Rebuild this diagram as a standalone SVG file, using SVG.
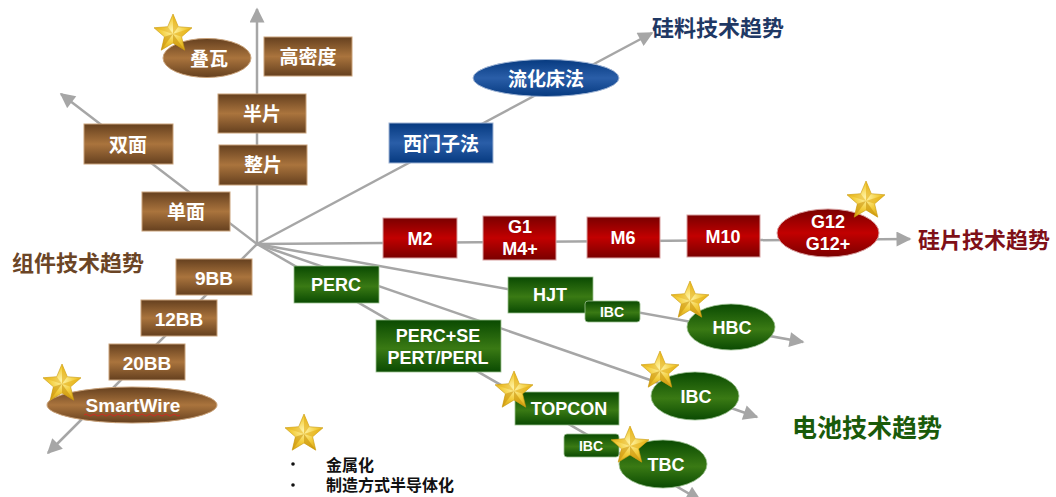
<svg xmlns="http://www.w3.org/2000/svg" width="1056" height="497" viewBox="0 0 1056 497">
<defs>
<style>
.ln{stroke:#a6a6a6;stroke-width:2.5;fill:none;marker-end:url(#ah)}
.t{font-family:"Liberation Sans","Noto Sans CJK SC",Arial,sans-serif;font-weight:bold;fill:#ffffff;text-anchor:middle;dominant-baseline:central}
.br{fill:url(#gBrown);stroke:#c9a27a;stroke-width:1}
.rd{fill:url(#gRed);stroke:#d8a0a0;stroke-width:1}
.gr{fill:url(#gGreen);stroke:#9cc090;stroke-width:0.8}
.bl{fill:url(#gBlue);stroke:#9fb4d4;stroke-width:1}
.title{font-family:"Liberation Sans","Noto Sans CJK SC",sans-serif;font-weight:bold;font-size:22px}
.leg{font-family:"Liberation Sans","Noto Sans CJK SC",sans-serif;font-weight:bold;font-size:16px;fill:#111}
</style>
<linearGradient id="gBrown" x1="0" y1="0" x2="0" y2="1">
<stop offset="0" stop-color="#65401f"/><stop offset="0.5" stop-color="#aa743d"/><stop offset="1" stop-color="#65401f"/>
</linearGradient>
<linearGradient id="gRed" x1="0" y1="0" x2="0" y2="1">
<stop offset="0" stop-color="#7a0000"/><stop offset="0.5" stop-color="#c20000"/><stop offset="1" stop-color="#7a0000"/>
</linearGradient>
<linearGradient id="gGreen" x1="0" y1="0" x2="0" y2="1">
<stop offset="0" stop-color="#0a4a02"/><stop offset="0.55" stop-color="#3a7a14"/><stop offset="1" stop-color="#0a4a02"/>
</linearGradient>
<linearGradient id="gBlue" x1="0" y1="0" x2="0" y2="1">
<stop offset="0" stop-color="#063a80"/><stop offset="0.5" stop-color="#2a5ea8"/><stop offset="1" stop-color="#063a80"/>
</linearGradient>
<radialGradient id="gStar" cx="0.5" cy="0.45" r="0.6">
<stop offset="0" stop-color="#fff4a8"/><stop offset="0.55" stop-color="#f3cd3c"/><stop offset="1" stop-color="#d9a514"/>
</radialGradient>
<marker id="ah" viewBox="0 0 10 10" refX="9" refY="5" markerWidth="17" markerHeight="15" markerUnits="userSpaceOnUse" orient="auto">
<path d="M0,0 L10,5 L0,10 z" fill="#a6a6a6"/>
</marker>
<g id="star">
<polygon points="0,-20 5.3,-7.3 19,-6.2 8.6,2.8 11.8,16.2 0,9 -11.8,16.2 -8.6,2.8 -19,-6.2 -5.3,-7.3" fill="url(#gStar)" stroke="#c89a10" stroke-width="0.6"/>
<polygon points="0,0 0,-20 5.3,-7.3" fill="#e2ae18" opacity="0.6"/>
<polygon points="0,0 19,-6.2 8.6,2.8" fill="#e2ae18" opacity="0.6"/>
<polygon points="0,0 11.8,16.2 0,9" fill="#c8920c" opacity="0.6"/>
<polygon points="0,0 -11.8,16.2 -8.6,2.8" fill="#c8920c" opacity="0.55"/>
<polygon points="0,0 -19,-6.2 -5.3,-7.3" fill="#e2ae18" opacity="0.45"/>
</g>
</defs>

<rect x="0" y="0" width="1056" height="497" fill="#ffffff"/>

<g id="connectors">
<line class="ln" x1="257" y1="244" x2="257" y2="9"/>
<line class="ln" x1="257" y1="244" x2="61" y2="94"/>
<line class="ln" x1="257" y1="244" x2="48" y2="453"/>
<line class="ln" x1="257" y1="244" x2="652" y2="33"/>
<line class="ln" x1="257" y1="244" x2="910" y2="239"/>
<line class="ln" x1="257" y1="244" x2="803" y2="342"/>
<line class="ln" x1="257" y1="244" x2="757" y2="417"/>
<line class="ln" x1="257" y1="244" x2="700" y2="500"/>
</g>

<g id="title-module"><text class="title" x="12" y="271" fill="#6b4526">组件技术趋势</text></g>
<g id="title-silicon"><text class="title" x="652" y="36" fill="#1f3864">硅料技术趋势</text></g>
<g id="title-wafer"><text class="title" x="918" y="248" fill="#7f1018">硅片技术趋势</text></g>
<g id="title-cell"><text class="title" x="792" y="437" fill="#1a5a0a" style="font-size:25px">电池技术趋势</text></g>

<g id="n-gaomidu"><rect class="br" x="264" y="37" width="88" height="39"/><text class="t" x="308" y="57" font-size="19">高密度</text></g>
<g id="n-diewa"><ellipse class="br" cx="207" cy="58" rx="44" ry="19.5"/><text class="t" x="209" y="59" font-size="19">叠瓦</text><use href="#star" x="173" y="34"/></g>
<g id="n-banpian"><rect class="br" x="218" y="94" width="88" height="39"/><text class="t" x="262" y="114" font-size="19">半片</text></g>
<g id="n-zhengpian"><rect class="br" x="219" y="145" width="88" height="40"/><text class="t" x="263" y="165" font-size="19">整片</text></g>
<g id="n-shuangmian"><rect class="br" x="84" y="124" width="89" height="40"/><text class="t" x="128" y="145" font-size="19">双面</text></g>
<g id="n-danmian"><rect class="br" x="142" y="192" width="88" height="39"/><text class="t" x="186" y="212" font-size="19">单面</text></g>
<g id="n-9bb"><rect class="br" x="176" y="259" width="76" height="36"/><text class="t" x="214" y="278" font-size="19">9BB</text></g>
<g id="n-12bb"><rect class="br" x="141" y="300" width="76" height="36"/><text class="t" x="179" y="319" font-size="19">12BB</text></g>
<g id="n-20bb"><rect class="br" x="109" y="344" width="76" height="36"/><text class="t" x="147" y="363" font-size="19">20BB</text></g>
<g id="n-smartwire"><ellipse class="br" cx="132" cy="405" rx="85" ry="18"/><text class="t" x="133" y="405" font-size="19">SmartWire</text><path d="M84,415 q2,-2 4,0 t4,0 t4,0 t4,0 t4,0 t4,0 t4,0 t4,0 t4,0 t4,0 t4,0 t4,0 t4,0 t4,0 t4,0 t4,0 t4,0 t4,0 t4,0 t4,0 t4,0 t4,0 t4,0 t4,0" fill="none" stroke="#e02020" stroke-width="0.8"/><use href="#star" x="62" y="384"/></g>

<g id="n-ximenzi"><rect class="bl" x="389" y="123" width="104" height="40"/><text class="t" x="441" y="144" font-size="19">西门子法</text></g>
<g id="n-liuhuachuang"><ellipse class="bl" cx="546" cy="78" rx="73" ry="18.5"/><text class="t" x="546" y="79" font-size="19">流化床法</text></g>

<g id="n-m2"><rect class="rd" x="383" y="218" width="74" height="40"/><text class="t" x="420" y="239" font-size="18">M2</text></g>
<g id="n-g1"><rect class="rd" x="483" y="216" width="73" height="44"/><text class="t" x="520" y="227" font-size="18">G1</text><text class="t" x="520" y="249" font-size="18">M4+</text></g>
<g id="n-m6"><rect class="rd" x="587" y="217" width="73" height="41"/><text class="t" x="623" y="238" font-size="18">M6</text></g>
<g id="n-m10"><rect class="rd" x="687" y="215" width="73" height="42"/><text class="t" x="723" y="237" font-size="18">M10</text></g>
<g id="n-g12"><ellipse class="rd" cx="828" cy="233" rx="51" ry="24"/><text class="t" x="828" y="222" font-size="18">G12</text><text class="t" x="828" y="244" font-size="18">G12+</text><use href="#star" x="866" y="201"/></g>

<g id="n-perc"><rect class="gr" x="294" y="266" width="85" height="37"/><text class="t" x="336" y="285" font-size="18">PERC</text></g>
<g id="n-hjt"><rect class="gr" x="508" y="277" width="85" height="36"/><text class="t" x="550" y="295" font-size="18">HJT</text></g>
<g id="n-ibc1"><rect class="gr" x="585" y="301" width="55" height="21" rx="3"/><text class="t" x="612" y="312" font-size="14">IBC</text></g>
<g id="n-hbc"><ellipse class="gr" cx="731" cy="327" rx="44" ry="23"/><text class="t" x="732" y="328" font-size="18">HBC</text><use href="#star" x="690" y="301"/></g>
<g id="n-percse"><rect class="gr" x="376" y="320" width="125" height="52"/><text class="t" x="438" y="336" font-size="18">PERC+SE</text><text class="t" x="438" y="358" font-size="18">PERT/PERL</text></g>
<g id="n-ibc2"><ellipse class="gr" cx="695" cy="396" rx="44" ry="24"/><text class="t" x="696" y="397" font-size="18">IBC</text><use href="#star" x="660" y="371"/></g>
<g id="n-topcon"><rect class="gr" x="515" y="392" width="104" height="33"/><text class="t" x="569" y="409" font-size="18">TOPCON</text><use href="#star" x="514" y="391"/></g>
<g id="n-ibc3"><rect class="gr" x="564" y="434" width="55" height="23" rx="3"/><text class="t" x="591" y="446" font-size="14">IBC</text></g>
<g id="n-tbc"><ellipse class="gr" cx="663" cy="464" rx="44" ry="24"/><text class="t" x="666" y="465" font-size="18">TBC</text><use href="#star" x="630" y="446"/></g>

<g id="legend">
<use href="#star" x="304" y="434"/>
<circle cx="293" cy="464" r="1.8" fill="#111"/>
<circle cx="293" cy="485" r="1.8" fill="#111"/>
<text class="leg" x="326" y="471">金属化</text>
<text class="leg" x="326" y="491">制造方式半导体化</text>
</g>
</svg>
